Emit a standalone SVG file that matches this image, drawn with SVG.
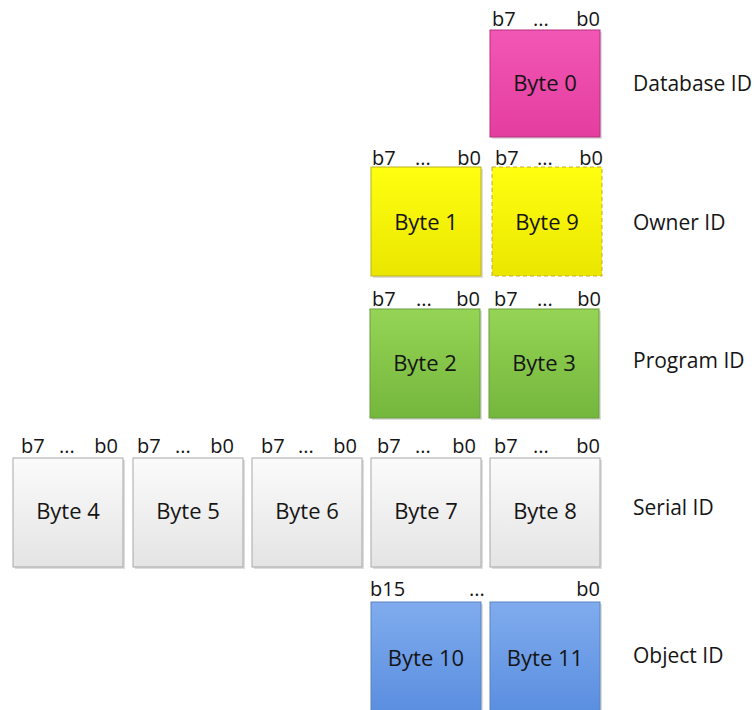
<svg xmlns="http://www.w3.org/2000/svg" width="754" height="710" viewBox="0 0 754 710">
  <defs>
    <linearGradient id="gPink" x1="0" y1="0" x2="0" y2="1">
      <stop offset="0" stop-color="#f257b5"/>
      <stop offset="1" stop-color="#e43da0"/>
    </linearGradient>
    <linearGradient id="gYellow" x1="0" y1="0" x2="0" y2="1">
      <stop offset="0" stop-color="#ffff10"/>
      <stop offset="1" stop-color="#ebe600"/>
    </linearGradient>
    <linearGradient id="gGreen" x1="0" y1="0" x2="0" y2="1">
      <stop offset="0" stop-color="#95d455"/>
      <stop offset="1" stop-color="#74b73d"/>
    </linearGradient>
    <linearGradient id="gGrey" x1="0" y1="0" x2="0" y2="1">
      <stop offset="0" stop-color="#fbfbfb"/>
      <stop offset="1" stop-color="#e4e4e4"/>
    </linearGradient>
    <linearGradient id="gBlue" x1="0" y1="0" x2="0" y2="1">
      <stop offset="0" stop-color="#80acee"/>
      <stop offset="1" stop-color="#5a8edf"/>
    </linearGradient>
  </defs>
  <style>
    .box { stroke-width: 1; }
    .shadow { fill: #000; opacity: 0.13; }
    .pink { fill: url(#gPink); stroke: #b5307f; }
    .yellow { fill: url(#gYellow); stroke: #b9b21e; }
    .dashed { stroke-dasharray: 4 3; stroke: #c2a83a; }
    .green { fill: url(#gGreen); stroke: #6a9c3e; }
    .grey { fill: url(#gGrey); stroke: #a8a8a8; }
    .blue { fill: url(#gBlue); stroke: #5a82c0; }
    text { font-family: "Open Sans", "DejaVu Sans", sans-serif; fill: #151515; }
    .lbl { font-size: 22px; text-anchor: middle; }
    .bit { font-size: 20px; }
    .end { text-anchor: end; }
    .mid { text-anchor: middle; }
    .name { font-size: 21px; }
  </style>

  <!-- Database ID row -->
  <g id="byte0">
    <rect class="shadow" x="492" y="32" width="110" height="107"/>
    <rect class="box pink" x="490" y="30" width="110" height="107"/>
    <text class="bit" x="492" y="26">b7</text>
    <text class="bit mid" x="541" y="26">...</text>
    <text class="bit end" x="600" y="26">b0</text>
    <text class="lbl" x="545" y="91">Byte 0</text>
  </g>
  <text id="label-database" class="name" x="633" y="91">Database ID</text>

  <!-- Owner ID row -->
  <g id="byte1">
    <rect class="shadow" x="373" y="169" width="110" height="109"/>
    <rect class="box yellow" x="371" y="167" width="110" height="109"/>
    <text class="bit" x="372" y="165">b7</text>
    <text class="bit mid" x="423" y="165">...</text>
    <text class="bit end" x="481" y="165">b0</text>
    <text class="lbl" x="426" y="230">Byte 1</text>
  </g>
  <g id="byte9">
    <rect class="box yellow dashed" x="492" y="167" width="110" height="109"/>
    <text class="bit" x="495" y="165">b7</text>
    <text class="bit mid" x="545" y="165">...</text>
    <text class="bit end" x="603" y="165">b0</text>
    <text class="lbl" x="547" y="230">Byte 9</text>
  </g>
  <text id="label-owner" class="name" x="633" y="230">Owner ID</text>

  <!-- Program ID row -->
  <g id="byte2">
    <rect class="shadow" x="372" y="311" width="110" height="109"/>
    <rect class="box green" x="370" y="309" width="110" height="109"/>
    <text class="bit" x="372" y="306">b7</text>
    <text class="bit mid" x="424" y="306">...</text>
    <text class="bit end" x="480" y="306">b0</text>
    <text class="lbl" x="425" y="371">Byte 2</text>
  </g>
  <g id="byte3">
    <rect class="shadow" x="491" y="311" width="110" height="109"/>
    <rect class="box green" x="489" y="309" width="110" height="109"/>
    <text class="bit" x="494" y="306">b7</text>
    <text class="bit mid" x="545" y="306">...</text>
    <text class="bit end" x="601" y="306">b0</text>
    <text class="lbl" x="544" y="371">Byte 3</text>
  </g>
  <text id="label-program" class="name" x="633" y="368">Program ID</text>

  <!-- Serial ID row -->
  <g id="byte4">
    <rect class="shadow" x="15" y="460" width="110" height="109"/>
    <rect class="box grey" x="13" y="458" width="110" height="109"/>
    <text class="bit" x="21" y="453">b7</text>
    <text class="bit mid" x="67" y="453">...</text>
    <text class="bit end" x="118" y="453">b0</text>
    <text class="lbl" x="68" y="519">Byte 4</text>
  </g>
  <g id="byte5">
    <rect class="shadow" x="135" y="460" width="110" height="109"/>
    <rect class="box grey" x="133" y="458" width="110" height="109"/>
    <text class="bit" x="137" y="453">b7</text>
    <text class="bit mid" x="183" y="453">...</text>
    <text class="bit end" x="234" y="453">b0</text>
    <text class="lbl" x="188" y="519">Byte 5</text>
  </g>
  <g id="byte6">
    <rect class="shadow" x="254" y="460" width="110" height="109"/>
    <rect class="box grey" x="252" y="458" width="110" height="109"/>
    <text class="bit" x="261" y="453">b7</text>
    <text class="bit mid" x="306" y="453">...</text>
    <text class="bit end" x="357" y="453">b0</text>
    <text class="lbl" x="307" y="519">Byte 6</text>
  </g>
  <g id="byte7">
    <rect class="shadow" x="373" y="460" width="110" height="109"/>
    <rect class="box grey" x="371" y="458" width="110" height="109"/>
    <text class="bit" x="377" y="453">b7</text>
    <text class="bit mid" x="423" y="453">...</text>
    <text class="bit end" x="476" y="453">b0</text>
    <text class="lbl" x="426" y="519">Byte 7</text>
  </g>
  <g id="byte8">
    <rect class="shadow" x="492" y="460" width="110" height="109"/>
    <rect class="box grey" x="490" y="458" width="110" height="109"/>
    <text class="bit" x="494" y="453">b7</text>
    <text class="bit mid" x="541" y="453">...</text>
    <text class="bit end" x="600" y="453">b0</text>
    <text class="lbl" x="545" y="519">Byte 8</text>
  </g>
  <text id="label-serial" class="name" x="633" y="515">Serial ID</text>

  <!-- Object ID row -->
  <g id="byte10">
    <rect class="shadow" x="373" y="604" width="110" height="110"/>
    <rect class="box blue" x="371" y="602" width="110" height="110"/>
    <text class="bit" x="370" y="596">b15</text>
    <text class="lbl" x="426" y="666">Byte 10</text>
  </g>
  <g id="byte11">
    <rect class="shadow" x="492" y="604" width="110" height="110"/>
    <rect class="box blue" x="490" y="602" width="110" height="110"/>
    <text class="bit mid" x="477" y="596">...</text>
    <text class="bit end" x="600" y="596">b0</text>
    <text class="lbl" x="545" y="666">Byte 11</text>
  </g>
  <text id="label-object" class="name" x="633" y="663">Object ID</text>
</svg>
